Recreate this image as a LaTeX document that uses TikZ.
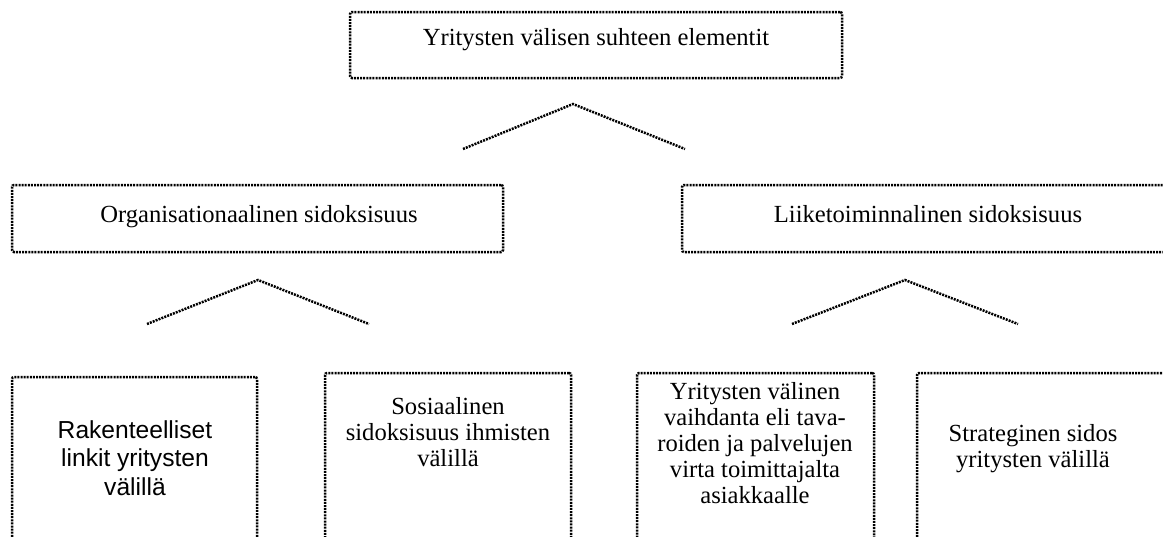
\documentclass[tikz,border=0pt]{standalone}
\usepackage{fontspec}
\setmainfont{Liberation Serif}
\newfontfamily\arialfont{Liberation Sans}
\begin{document}
\begin{tikzpicture}[x=1pt,y=-1pt,
  dotline/.style={line width=2.5pt, dash pattern=on 2pt off 1.1pt, black},
  frame/.style={draw, dotline, rounded corners=2pt, inner sep=0pt},
  lbl/.style={align=center, inner sep=0pt, anchor=base, font=\fontsize{24.6}{26}\selectfont},
  lblsans/.style={lbl, font=\arialfont\fontsize{24.6}{28.5}\selectfont}]
\path[use as bounding box] (0,0) rectangle (1163,536);
\clip (0,0) rectangle (1163,536);

% frames
\node[frame, minimum width=492pt, minimum height=66pt] (top) at (596,45) {};
\node[frame, minimum width=491pt, minimum height=67pt] (org) at (257.5,218.5) {};
\node[frame, minimum width=492pt, minimum height=67pt] (bus) at (928,218.5) {};
\node[frame, minimum width=245pt, minimum height=200pt] (b1) at (134.5,477) {};
\node[frame, minimum width=246pt, minimum height=200pt] (b2) at (448,473) {};
\node[frame, minimum width=237pt, minimum height=200pt] (b3) at (755.5,473) {};
\node[frame, minimum width=253pt, minimum height=200pt] (b4) at (1043.5,473) {};

% texts (base anchor = baseline of the last line)
\node[lbl] (topT) at (596,45) {Yritysten välisen suhteen elementit};
\node[lbl] (orgT) at (259,222) {Organisationaalinen sidoksisuus};
\node[lbl] (busT) at (928,222) {Liiketoiminnalinen sidoksisuus};
\node[lblsans] (b1T) at (135,495) {Rakenteelliset\\linkit yritysten\\välillä};
\node[lbl] (b2T) at (448,466) {Sosiaalinen\\sidoksisuus ihmisten\\välillä};
\node[lbl] (b3T) at (755,503) {Yritysten välinen\\vaihdanta eli tava-\\roiden ja palvelujen\\virta toimittajalta\\asiakkaalle};
\node[lbl] (b4T) at (1033,467) {Strateginen sidos\\yritysten välillä};

% branch marks
\coordinate (t1) at (463,149);
\coordinate (t2) at (573,104);
\coordinate (t3) at (685,149);
\coordinate (l1) at (147,324);
\coordinate (l2) at (258,280);
\coordinate (l3) at (369,324);
\coordinate (r1) at (792,324);
\coordinate (r2) at (905,280);
\coordinate (r3) at (1018,324);
\draw[dotline] (t1) -- (t2) -- (t3);
\draw[dotline] (l1) -- (l2) -- (l3);
\draw[dotline] (r1) -- (r2) -- (r3);
\end{tikzpicture}
\end{document}
